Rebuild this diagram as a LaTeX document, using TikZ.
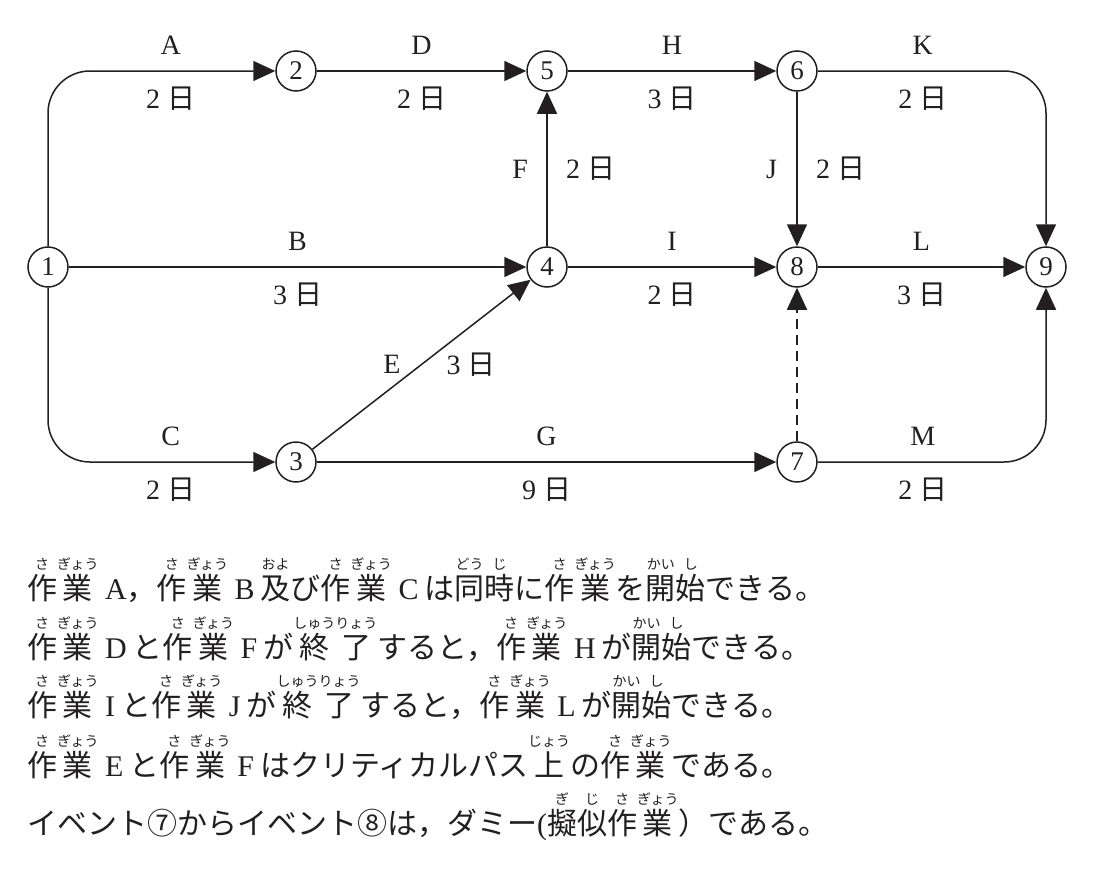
\documentclass[tikz,border=0pt]{standalone}
\usepackage{fontspec}
\usepackage{xcolor}
\setmainfont{Liberation Serif}
\newfontfamily\jpfont{Noto Sans CJK JP}
\usetikzlibrary{arrows.meta}
\definecolor{ink}{RGB}{35,31,32}

% ruby (furigana) over one kanji
\newlength\rubyraise
\setlength\rubyraise{30pt}
\newcommand\rubysize{\jpfont\fontsize{14}{14}\selectfont}
\newcommand\rb[2]{\leavevmode
  \setbox0\hbox{#1}\setbox2\hbox{\rubysize #2}%
  \ifdim\wd2>\wd0 \dimen0=\wd2 \else \dimen0=\wd0 \fi
  \hbox to\dimen0{\hss\rlap{\raise\rubyraise\hbox to\wd0{\hss\box2\hss}}\box0\hss}}
\newcommand\lat[1]{\hspace{.22em}{\rmfamily #1}\hspace{.2em}}
\newcommand\nichi[1]{#1\ {\jpfont 日}}

\begin{document}
\begin{tikzpicture}[
x=1pt, y=-1pt,
color=ink,
font=\fontsize{28}{32}\selectfont,
event/.style={circle,draw,line width=1.5pt,minimum size=40pt,inner sep=0pt,font=\fontsize{27}{27}\selectfont},
task/.style={line width=1.5pt,-{Triangle[length=22pt,width=20pt]},rounded corners=42pt},
dummy/.style={task,dash pattern=on 10pt off 6pt},
sentence/.style={anchor=base west,inner sep=0pt,font=\jpfont\fontsize{30}{36}\selectfont}
]
    \useasboundingbox (0,0) rectangle (1095,870);

    % Events
    \node[event] (e1) at (48,267) {1};
    \node[event] (e2) at (296,71) {2};
    \node[event] (e5) at (547,71) {5};
    \node[event] (e6) at (797,71) {6};
    \node[event] (e4) at (547,267) {4};
    \node[event] (e8) at (797,267) {8};
    \node[event] (e9) at (1046,267) {9};
    \node[event] (e3) at (296,462) {3};
    \node[event] (e7) at (797,462) {7};

    % Activities
    \draw[task] (e1) |- node[pos=0.77,above=12pt]{A} node[pos=0.77,below=12pt]{\nichi{2}} (e2);
    \draw[task] (e2) -- node[above=12pt]{D} node[below=12pt]{\nichi{2}} (e5);
    \draw[task] (e5) -- node[above=12pt]{H} node[below=12pt]{\nichi{3}} (e6);
    \draw[task] (e6) -| node[pos=0.23,above=12pt]{K} node[pos=0.23,below=12pt]{\nichi{2}} (e9);

    \draw[task] (e1) -- node[above=12pt]{B} node[below=12pt]{\nichi{3}} (e4);
    \draw[task] (e4) -- node[above=12pt]{I} node[below=12pt]{\nichi{2}} (e8);
    \draw[task] (e8) -- node[above=12pt]{L} node[below=12pt]{\nichi{3}} (e9);

    \draw[task] (e1) |- node[pos=0.77,above=12pt]{C} node[pos=0.77,below=12pt]{\nichi{2}} (e3);
    \draw[task] (e3) -- node[above=12pt]{G} node[below=12pt]{\nichi{9}} (e7);
    \draw[task] (e7) -| node[pos=0.23,above=12pt]{M} node[pos=0.23,below=12pt]{\nichi{2}} (e9);

    \draw[task] (e4) -- node[left=15pt]{F} node[right=15pt]{\nichi{2}} (e5);
    \draw[task] (e6) -- node[left=16pt]{J} node[right=15pt]{\nichi{2}} (e8);
    \draw[task] (e3) -- node[anchor=east,xshift=-17pt]{E} node[anchor=west,xshift=21pt]{\nichi{3}} (e4);
    \draw[dummy] (e7) -- (e8);

    % Notes
    \node[sentence] (line1) at (27,599) {\rb{作}{さ}\rb{業}{ぎょう}\hspace{.22em}{\rmfamily A}，\rb{作}{さ}\rb{業}{ぎょう}\lat{B}\rb{及}{およ}び\rb{作}{さ}\rb{業}{ぎょう}\lat{C}は\rb{同}{どう}\rb{時}{じ}に\rb{作}{さ}\rb{業}{ぎょう}を\rb{開}{かい}\rb{始}{し}できる。};
    \node[sentence] (line2) at (27,658) {\rb{作}{さ}\rb{業}{ぎょう}\lat{D}と\rb{作}{さ}\rb{業}{ぎょう}\lat{F}が\rb{終}{しゅう}\rb{了}{りょう}すると，\rb{作}{さ}\rb{業}{ぎょう}\lat{H}が\rb{開}{かい}\rb{始}{し}できる。};
    \node[sentence] (line3) at (27,716) {\rb{作}{さ}\rb{業}{ぎょう}\lat{I}と\rb{作}{さ}\rb{業}{ぎょう}\lat{J}が\rb{終}{しゅう}\rb{了}{りょう}すると，\rb{作}{さ}\rb{業}{ぎょう}\lat{L}が\rb{開}{かい}\rb{始}{し}できる。};
    \node[sentence] (line4) at (27,776) {\rb{作}{さ}\rb{業}{ぎょう}\lat{E}と\rb{作}{さ}\rb{業}{ぎょう}\lat{F}はクリティカルパス\rb{上}{じょう}の\rb{作}{さ}\rb{業}{ぎょう}である。};
    \node[sentence] (line5) at (27,834) {イベント⑦からイベント⑧は，ダミー{\rmfamily(}\rb{擬}{ぎ}\rb{似}{じ}\rb{作}{さ}\rb{業}{ぎょう}）である。};

\end{tikzpicture}
\end{document}
